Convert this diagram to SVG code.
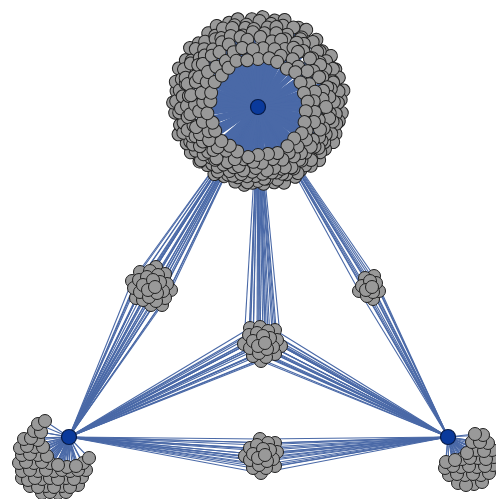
<svg xmlns="http://www.w3.org/2000/svg" width="496" height="499" viewBox="0 0 496 499">
<style>
.e line{stroke:#4a69a7;stroke-width:1.1}
#ring-edges line{stroke-width:2.6}
.n{fill:#999;stroke:#202020;stroke-width:1}
.h{fill:#0a3a9c;stroke:#061a45;stroke-width:1.2}
</style>
<rect width="496" height="499" fill="#fff"/>
<g id="connectors" class="e">
<g id="ring-edges" transform="translate(258,107)">
<line transform="rotate(3)" y2="-90"/><line transform="rotate(11)" y2="-88"/><line transform="rotate(17)" y2="-91"/><line transform="rotate(27)" y2="-89"/><line transform="rotate(32)" y2="-91"/><line transform="rotate(41)" y2="-89"/><line transform="rotate(49)" y2="-85"/><line transform="rotate(55)" y2="-89"/><line transform="rotate(64)" y2="-86"/><line transform="rotate(70)" y2="-86"/><line transform="rotate(79)" y2="-87"/><line transform="rotate(85)" y2="-83"/><line transform="rotate(94)" y2="-84"/><line transform="rotate(100)" y2="-82"/><line transform="rotate(109)" y2="-82"/><line transform="rotate(115)" y2="-83"/><line transform="rotate(122)" y2="-79"/><line transform="rotate(131)" y2="-81"/><line transform="rotate(138)" y2="-79"/><line transform="rotate(146)" y2="-76"/><line transform="rotate(152)" y2="-79"/><line transform="rotate(161)" y2="-80"/><line transform="rotate(168)" y2="-77"/><line transform="rotate(176)" y2="-77"/><line transform="rotate(184)" y2="-76"/><line transform="rotate(190)" y2="-79"/><line transform="rotate(197)" y2="-78"/><line transform="rotate(206)" y2="-77"/><line transform="rotate(213)" y2="-80"/><line transform="rotate(221)" y2="-77"/><line transform="rotate(227)" y2="-80"/><line transform="rotate(236)" y2="-81"/><line transform="rotate(243)" y2="-80"/><line transform="rotate(251)" y2="-84"/><line transform="rotate(257)" y2="-80"/><line transform="rotate(266)" y2="-83"/><line transform="rotate(273)" y2="-85"/><line transform="rotate(281)" y2="-83"/><line transform="rotate(287)" y2="-86"/><line transform="rotate(296)" y2="-88"/><line transform="rotate(303)" y2="-86"/><line transform="rotate(311)" y2="-90"/><line transform="rotate(317)" y2="-87"/><line transform="rotate(326)" y2="-89"/><line transform="rotate(333)" y2="-91"/><line transform="rotate(341)" y2="-89"/><line transform="rotate(347)" y2="-90"/><line transform="rotate(356)" y2="-88"/>
<line transform="rotate(1)" y2="-86"/><line transform="rotate(9)" y2="-84"/><line transform="rotate(17)" y2="-85"/><line transform="rotate(24)" y2="-87"/><line transform="rotate(32)" y2="-82"/><line transform="rotate(40)" y2="-85"/><line transform="rotate(48)" y2="-83"/><line transform="rotate(56)" y2="-82"/><line transform="rotate(63)" y2="-84"/><line transform="rotate(71)" y2="-79"/><line transform="rotate(79)" y2="-82"/><line transform="rotate(87)" y2="-80"/><line transform="rotate(95)" y2="-78"/><line transform="rotate(102)" y2="-80"/><line transform="rotate(110)" y2="-78"/><line transform="rotate(118)" y2="-75"/><line transform="rotate(126)" y2="-77"/><line transform="rotate(134)" y2="-74"/><line transform="rotate(141)" y2="-75"/><line transform="rotate(149)" y2="-77"/><line transform="rotate(157)" y2="-73"/><line transform="rotate(165)" y2="-75"/><line transform="rotate(173)" y2="-72"/><line transform="rotate(180)" y2="-74"/><line transform="rotate(188)" y2="-76"/><line transform="rotate(196)" y2="-73"/><line transform="rotate(204)" y2="-74"/><line transform="rotate(212)" y2="-76"/><line transform="rotate(219)" y2="-73"/><line transform="rotate(227)" y2="-78"/><line transform="rotate(235)" y2="-76"/><line transform="rotate(243)" y2="-76"/><line transform="rotate(251)" y2="-79"/><line transform="rotate(258)" y2="-76"/><line transform="rotate(266)" y2="-79"/><line transform="rotate(274)" y2="-82"/><line transform="rotate(282)" y2="-80"/><line transform="rotate(290)" y2="-81"/><line transform="rotate(297)" y2="-83"/><line transform="rotate(305)" y2="-81"/><line transform="rotate(313)" y2="-85"/><line transform="rotate(321)" y2="-84"/><line transform="rotate(329)" y2="-83"/><line transform="rotate(336)" y2="-86"/><line transform="rotate(344)" y2="-85"/><line transform="rotate(352)" y2="-83"/>
<line transform="rotate(7)" y2="-80"/><line transform="rotate(13)" y2="-82"/><line transform="rotate(22)" y2="-78"/><line transform="rotate(32)" y2="-80"/><line transform="rotate(36)" y2="-78"/><line transform="rotate(47)" y2="-81"/><line transform="rotate(54)" y2="-76"/><line transform="rotate(61)" y2="-77"/><line transform="rotate(72)" y2="-79"/><line transform="rotate(76)" y2="-75"/><line transform="rotate(86)" y2="-76"/><line transform="rotate(95)" y2="-72"/><line transform="rotate(101)" y2="-76"/><line transform="rotate(112)" y2="-73"/><line transform="rotate(118)" y2="-72"/><line transform="rotate(124)" y2="-73"/><line transform="rotate(135)" y2="-75"/><line transform="rotate(141)" y2="-69"/><line transform="rotate(150)" y2="-71"/><line transform="rotate(160)" y2="-71"/><line transform="rotate(164)" y2="-68"/><line transform="rotate(175)" y2="-72"/><line transform="rotate(182)" y2="-69"/><line transform="rotate(189)" y2="-70"/><line transform="rotate(200)" y2="-73"/><line transform="rotate(204)" y2="-70"/><line transform="rotate(214)" y2="-72"/><line transform="rotate(223)" y2="-69"/><line transform="rotate(229)" y2="-72"/><line transform="rotate(240)" y2="-75"/><line transform="rotate(246)" y2="-72"/><line transform="rotate(252)" y2="-74"/><line transform="rotate(263)" y2="-71"/><line transform="rotate(269)" y2="-77"/><line transform="rotate(278)" y2="-76"/><line transform="rotate(288)" y2="-76"/><line transform="rotate(292)" y2="-78"/><line transform="rotate(303)" y2="-80"/><line transform="rotate(310)" y2="-76"/><line transform="rotate(317)" y2="-79"/><line transform="rotate(328)" y2="-80"/><line transform="rotate(332)" y2="-78"/><line transform="rotate(342)" y2="-83"/><line transform="rotate(351)" y2="-80"/><line transform="rotate(357)" y2="-78"/>
<line transform="rotate(5)" y2="-74"/><line transform="rotate(14)" y2="-76"/><line transform="rotate(22)" y2="-73"/><line transform="rotate(31)" y2="-75"/><line transform="rotate(39)" y2="-72"/><line transform="rotate(48)" y2="-73"/><line transform="rotate(56)" y2="-75"/><line transform="rotate(65)" y2="-71"/><line transform="rotate(74)" y2="-72"/><line transform="rotate(82)" y2="-72"/><line transform="rotate(91)" y2="-68"/><line transform="rotate(99)" y2="-72"/><line transform="rotate(108)" y2="-69"/><line transform="rotate(116)" y2="-68"/><line transform="rotate(125)" y2="-69"/><line transform="rotate(134)" y2="-66"/><line transform="rotate(142)" y2="-67"/><line transform="rotate(151)" y2="-69"/><line transform="rotate(159)" y2="-66"/><line transform="rotate(168)" y2="-67"/><line transform="rotate(176)" y2="-67"/><line transform="rotate(185)" y2="-65"/><line transform="rotate(194)" y2="-69"/><line transform="rotate(202)" y2="-65"/><line transform="rotate(211)" y2="-67"/><line transform="rotate(219)" y2="-68"/><line transform="rotate(228)" y2="-67"/><line transform="rotate(236)" y2="-70"/><line transform="rotate(245)" y2="-69"/><line transform="rotate(254)" y2="-67"/><line transform="rotate(262)" y2="-71"/><line transform="rotate(271)" y2="-71"/><line transform="rotate(279)" y2="-70"/><line transform="rotate(288)" y2="-74"/><line transform="rotate(296)" y2="-70"/><line transform="rotate(305)" y2="-73"/><line transform="rotate(314)" y2="-74"/><line transform="rotate(322)" y2="-73"/><line transform="rotate(331)" y2="-74"/><line transform="rotate(339)" y2="-76"/><line transform="rotate(348)" y2="-73"/><line transform="rotate(356)" y2="-75"/>
<line transform="rotate(2)" y2="-70"/><line transform="rotate(12)" y2="-67"/><line transform="rotate(19)" y2="-71"/><line transform="rotate(25)" y2="-64"/><line transform="rotate(31)" y2="-69"/><line transform="rotate(36)" y2="-68"/><line transform="rotate(47)" y2="-71"/><line transform="rotate(57)" y2="-66"/><line transform="rotate(64)" y2="-68"/><line transform="rotate(76)" y2="-67"/><line transform="rotate(83)" y2="-65"/><line transform="rotate(90)" y2="-68"/><line transform="rotate(102)" y2="-62"/><line transform="rotate(110)" y2="-66"/><line transform="rotate(121)" y2="-64"/><line transform="rotate(127)" y2="-66"/><line transform="rotate(137)" y2="-63"/><line transform="rotate(144)" y2="-61"/><line transform="rotate(156)" y2="-66"/><line transform="rotate(165)" y2="-63"/><line transform="rotate(172)" y2="-64"/><line transform="rotate(182)" y2="-61"/><line transform="rotate(193)" y2="-65"/><line transform="rotate(198)" y2="-62"/><line transform="rotate(209)" y2="-63"/><line transform="rotate(219)" y2="-66"/><line transform="rotate(226)" y2="-62"/><line transform="rotate(238)" y2="-65"/><line transform="rotate(245)" y2="-64"/><line transform="rotate(252)" y2="-65"/><line transform="rotate(264)" y2="-68"/><line transform="rotate(272)" y2="-63"/><line transform="rotate(280)" y2="-68"/><line transform="rotate(292)" y2="-67"/><line transform="rotate(297)" y2="-66"/><line transform="rotate(308)" y2="-70"/><line transform="rotate(318)" y2="-69"/><line transform="rotate(325)" y2="-67"/><line transform="rotate(335)" y2="-69"/><line transform="rotate(346)" y2="-72"/><line transform="rotate(351)" y2="-68"/>
<line transform="rotate(5)" y2="-59"/><line transform="rotate(16)" y2="-60"/><line transform="rotate(24)" y2="-56"/><line transform="rotate(36)" y2="-59"/><line transform="rotate(45)" y2="-57"/><line transform="rotate(54)" y2="-61"/><line transform="rotate(66)" y2="-56"/><line transform="rotate(75)" y2="-59"/><line transform="rotate(84)" y2="-56"/><line transform="rotate(95)" y2="-57"/><line transform="rotate(105)" y2="-58"/><line transform="rotate(116)" y2="-54"/><line transform="rotate(124)" y2="-58"/><line transform="rotate(135)" y2="-56"/><line transform="rotate(146)" y2="-55"/><line transform="rotate(155)" y2="-58"/><line transform="rotate(164)" y2="-54"/><line transform="rotate(176)" y2="-56"/><line transform="rotate(185)" y2="-55"/><line transform="rotate(195)" y2="-54"/><line transform="rotate(204)" y2="-57"/><line transform="rotate(216)" y2="-54"/><line transform="rotate(225)" y2="-57"/><line transform="rotate(236)" y2="-59"/><line transform="rotate(244)" y2="-55"/><line transform="rotate(255)" y2="-57"/><line transform="rotate(266)" y2="-59"/><line transform="rotate(275)" y2="-55"/><line transform="rotate(284)" y2="-58"/><line transform="rotate(296)" y2="-57"/><line transform="rotate(305)" y2="-61"/><line transform="rotate(314)" y2="-58"/><line transform="rotate(325)" y2="-56"/><line transform="rotate(336)" y2="-60"/><line transform="rotate(345)" y2="-61"/><line transform="rotate(355)" y2="-58"/>
<line transform="rotate(0)" y2="-48"/><line transform="rotate(13)" y2="-50"/><line transform="rotate(23)" y2="-49"/><line transform="rotate(37)" y2="-48"/><line transform="rotate(47)" y2="-51"/><line transform="rotate(60)" y2="-49"/><line transform="rotate(73)" y2="-48"/><line transform="rotate(84)" y2="-50"/><line transform="rotate(95)" y2="-48"/><line transform="rotate(108)" y2="-49"/><line transform="rotate(121)" y2="-51"/><line transform="rotate(131)" y2="-48"/><line transform="rotate(143)" y2="-49"/><line transform="rotate(157)" y2="-50"/><line transform="rotate(168)" y2="-48"/><line transform="rotate(180)" y2="-48"/><line transform="rotate(191)" y2="-51"/><line transform="rotate(205)" y2="-49"/><line transform="rotate(216)" y2="-48"/><line transform="rotate(227)" y2="-50"/><line transform="rotate(241)" y2="-49"/><line transform="rotate(251)" y2="-48"/><line transform="rotate(263)" y2="-51"/><line transform="rotate(277)" y2="-48"/><line transform="rotate(287)" y2="-49"/><line transform="rotate(300)" y2="-50"/><line transform="rotate(311)" y2="-48"/><line transform="rotate(323)" y2="-49"/><line transform="rotate(335)" y2="-51"/><line transform="rotate(347)" y2="-48"/>
</g>
<g id="a-edges">
<line x1="155" y1="287" x2="258" y2="107"/><line x1="148" y1="290" x2="258" y2="107"/><line x1="153" y1="280" x2="258" y2="107"/><line x1="157" y1="293" x2="258" y2="107"/><line x1="143" y1="285" x2="258" y2="107"/><line x1="160" y1="282" x2="258" y2="107"/><line x1="149" y1="297" x2="258" y2="107"/><line x1="147" y1="277" x2="258" y2="107"/><line x1="163" y1="291" x2="258" y2="107"/><line x1="140" y1="292" x2="258" y2="107"/><line x1="158" y1="275" x2="258" y2="107"/><line x1="156" y1="301" x2="258" y2="107"/><line x1="139" y1="280" x2="258" y2="107"/><line x1="167" y1="284" x2="258" y2="107"/><line x1="143" y1="300" x2="258" y2="107"/><line x1="150" y1="271" x2="258" y2="107"/><line x1="165" y1="298" x2="258" y2="107"/><line x1="134" y1="288" x2="258" y2="107"/><line x1="165" y1="274" x2="258" y2="107"/><line x1="151" y1="305" x2="258" y2="107"/><line x1="140" y1="272" x2="258" y2="107"/><line x1="171" y1="290" x2="258" y2="107"/><line x1="136" y1="298" x2="258" y2="107"/><line x1="156" y1="267" x2="258" y2="107"/><line x1="162" y1="305" x2="258" y2="107"/><line x1="132" y1="281" x2="258" y2="107"/>
<line x1="155" y1="287" x2="69" y2="437"/><line x1="148" y1="290" x2="69" y2="437"/><line x1="153" y1="280" x2="69" y2="437"/><line x1="157" y1="293" x2="69" y2="437"/><line x1="143" y1="285" x2="69" y2="437"/><line x1="160" y1="282" x2="69" y2="437"/><line x1="149" y1="297" x2="69" y2="437"/><line x1="147" y1="277" x2="69" y2="437"/><line x1="163" y1="291" x2="69" y2="437"/><line x1="140" y1="292" x2="69" y2="437"/><line x1="158" y1="275" x2="69" y2="437"/><line x1="156" y1="301" x2="69" y2="437"/><line x1="139" y1="280" x2="69" y2="437"/><line x1="167" y1="284" x2="69" y2="437"/><line x1="143" y1="300" x2="69" y2="437"/><line x1="150" y1="271" x2="69" y2="437"/><line x1="165" y1="298" x2="69" y2="437"/><line x1="134" y1="288" x2="69" y2="437"/><line x1="165" y1="274" x2="69" y2="437"/><line x1="151" y1="305" x2="69" y2="437"/><line x1="140" y1="272" x2="69" y2="437"/><line x1="171" y1="290" x2="69" y2="437"/><line x1="136" y1="298" x2="69" y2="437"/><line x1="156" y1="267" x2="69" y2="437"/><line x1="162" y1="305" x2="69" y2="437"/><line x1="132" y1="281" x2="69" y2="437"/>
</g>
<g id="b-edges">
<line x1="372" y1="287" x2="258" y2="107"/><line x1="366" y1="290" x2="258" y2="107"/><line x1="370" y1="281" x2="258" y2="107"/><line x1="373" y1="292" x2="258" y2="107"/><line x1="362" y1="286" x2="258" y2="107"/><line x1="376" y1="283" x2="258" y2="107"/><line x1="367" y1="296" x2="258" y2="107"/><line x1="365" y1="278" x2="258" y2="107"/><line x1="379" y1="291" x2="258" y2="107"/><line x1="359" y1="291" x2="258" y2="107"/><line x1="374" y1="276" x2="258" y2="107"/><line x1="373" y1="299" x2="258" y2="107"/>
<line x1="372" y1="287" x2="448" y2="437"/><line x1="366" y1="290" x2="448" y2="437"/><line x1="370" y1="281" x2="448" y2="437"/><line x1="373" y1="292" x2="448" y2="437"/><line x1="362" y1="286" x2="448" y2="437"/><line x1="376" y1="283" x2="448" y2="437"/><line x1="367" y1="296" x2="448" y2="437"/><line x1="365" y1="278" x2="448" y2="437"/><line x1="379" y1="291" x2="448" y2="437"/><line x1="359" y1="291" x2="448" y2="437"/><line x1="374" y1="276" x2="448" y2="437"/><line x1="373" y1="299" x2="448" y2="437"/>
</g>
<g id="c-edges">
<line x1="265" y1="343" x2="258" y2="107"/><line x1="258" y1="346" x2="258" y2="107"/><line x1="263" y1="336" x2="258" y2="107"/><line x1="267" y1="349" x2="258" y2="107"/><line x1="253" y1="341" x2="258" y2="107"/><line x1="270" y1="338" x2="258" y2="107"/><line x1="259" y1="353" x2="258" y2="107"/><line x1="257" y1="333" x2="258" y2="107"/><line x1="273" y1="347" x2="258" y2="107"/><line x1="250" y1="348" x2="258" y2="107"/><line x1="268" y1="331" x2="258" y2="107"/><line x1="266" y1="357" x2="258" y2="107"/><line x1="249" y1="335" x2="258" y2="107"/><line x1="277" y1="340" x2="258" y2="107"/><line x1="253" y1="356" x2="258" y2="107"/><line x1="260" y1="327" x2="258" y2="107"/><line x1="275" y1="354" x2="258" y2="107"/><line x1="244" y1="344" x2="258" y2="107"/><line x1="275" y1="330" x2="258" y2="107"/><line x1="261" y1="361" x2="258" y2="107"/><line x1="250" y1="328" x2="258" y2="107"/><line x1="281" y1="346" x2="258" y2="107"/>
<line x1="265" y1="343" x2="69" y2="437"/><line x1="258" y1="346" x2="69" y2="437"/><line x1="263" y1="336" x2="69" y2="437"/><line x1="267" y1="349" x2="69" y2="437"/><line x1="253" y1="341" x2="69" y2="437"/><line x1="270" y1="338" x2="69" y2="437"/><line x1="259" y1="353" x2="69" y2="437"/><line x1="257" y1="333" x2="69" y2="437"/><line x1="273" y1="347" x2="69" y2="437"/><line x1="250" y1="348" x2="69" y2="437"/><line x1="268" y1="331" x2="69" y2="437"/><line x1="266" y1="357" x2="69" y2="437"/><line x1="249" y1="335" x2="69" y2="437"/><line x1="277" y1="340" x2="69" y2="437"/><line x1="253" y1="356" x2="69" y2="437"/><line x1="260" y1="327" x2="69" y2="437"/><line x1="275" y1="354" x2="69" y2="437"/><line x1="244" y1="344" x2="69" y2="437"/><line x1="275" y1="330" x2="69" y2="437"/><line x1="261" y1="361" x2="69" y2="437"/><line x1="250" y1="328" x2="69" y2="437"/><line x1="281" y1="346" x2="69" y2="437"/>
<line x1="265" y1="343" x2="448" y2="437"/><line x1="258" y1="346" x2="448" y2="437"/><line x1="263" y1="336" x2="448" y2="437"/><line x1="267" y1="349" x2="448" y2="437"/><line x1="253" y1="341" x2="448" y2="437"/><line x1="270" y1="338" x2="448" y2="437"/><line x1="259" y1="353" x2="448" y2="437"/><line x1="257" y1="333" x2="448" y2="437"/><line x1="273" y1="347" x2="448" y2="437"/><line x1="250" y1="348" x2="448" y2="437"/><line x1="268" y1="331" x2="448" y2="437"/><line x1="266" y1="357" x2="448" y2="437"/><line x1="249" y1="335" x2="448" y2="437"/><line x1="277" y1="340" x2="448" y2="437"/><line x1="253" y1="356" x2="448" y2="437"/><line x1="260" y1="327" x2="448" y2="437"/><line x1="275" y1="354" x2="448" y2="437"/><line x1="244" y1="344" x2="448" y2="437"/><line x1="275" y1="330" x2="448" y2="437"/><line x1="261" y1="361" x2="448" y2="437"/><line x1="250" y1="328" x2="448" y2="437"/><line x1="281" y1="346" x2="448" y2="437"/>
</g>
<g id="d-edges">
<line x1="265" y1="455" x2="69" y2="437"/><line x1="258" y1="458" x2="69" y2="437"/><line x1="263" y1="449" x2="69" y2="437"/><line x1="267" y1="461" x2="69" y2="437"/><line x1="253" y1="454" x2="69" y2="437"/><line x1="270" y1="450" x2="69" y2="437"/><line x1="259" y1="465" x2="69" y2="437"/><line x1="257" y1="445" x2="69" y2="437"/><line x1="273" y1="459" x2="69" y2="437"/><line x1="250" y1="460" x2="69" y2="437"/><line x1="268" y1="443" x2="69" y2="437"/><line x1="266" y1="468" x2="69" y2="437"/><line x1="250" y1="448" x2="69" y2="437"/><line x1="277" y1="452" x2="69" y2="437"/><line x1="253" y1="468" x2="69" y2="437"/><line x1="260" y1="439" x2="69" y2="437"/><line x1="275" y1="466" x2="69" y2="437"/><line x1="245" y1="456" x2="69" y2="437"/><line x1="275" y1="443" x2="69" y2="437"/><line x1="261" y1="473" x2="69" y2="437"/>
<line x1="265" y1="455" x2="448" y2="437"/><line x1="258" y1="458" x2="448" y2="437"/><line x1="263" y1="449" x2="448" y2="437"/><line x1="267" y1="461" x2="448" y2="437"/><line x1="253" y1="454" x2="448" y2="437"/><line x1="270" y1="450" x2="448" y2="437"/><line x1="259" y1="465" x2="448" y2="437"/><line x1="257" y1="445" x2="448" y2="437"/><line x1="273" y1="459" x2="448" y2="437"/><line x1="250" y1="460" x2="448" y2="437"/><line x1="268" y1="443" x2="448" y2="437"/><line x1="266" y1="468" x2="448" y2="437"/><line x1="250" y1="448" x2="448" y2="437"/><line x1="277" y1="452" x2="448" y2="437"/><line x1="253" y1="468" x2="448" y2="437"/><line x1="260" y1="439" x2="448" y2="437"/><line x1="275" y1="466" x2="448" y2="437"/><line x1="245" y1="456" x2="448" y2="437"/><line x1="275" y1="443" x2="448" y2="437"/><line x1="261" y1="473" x2="448" y2="437"/>
</g>
<g id="e-edges">
<line x1="69" y1="437" x2="38" y2="424"/><line x1="69" y1="437" x2="45" y2="421"/><line x1="69" y1="437" x2="34" y2="431"/><line x1="69" y1="437" x2="41" y2="432"/><line x1="69" y1="437" x2="24" y2="439"/><line x1="69" y1="437" x2="31" y2="438"/><line x1="69" y1="437" x2="38" y2="440"/><line x1="69" y1="437" x2="20" y2="448"/><line x1="69" y1="437" x2="27" y2="446"/><line x1="69" y1="437" x2="35" y2="447"/><line x1="69" y1="437" x2="43" y2="447"/><line x1="69" y1="437" x2="22" y2="455"/><line x1="69" y1="437" x2="30" y2="454"/><line x1="69" y1="437" x2="38" y2="455"/><line x1="69" y1="437" x2="47" y2="456"/><line x1="69" y1="437" x2="19" y2="463"/><line x1="69" y1="437" x2="26" y2="462"/><line x1="69" y1="437" x2="34" y2="463"/><line x1="69" y1="437" x2="42" y2="462"/><line x1="69" y1="437" x2="50" y2="463"/><line x1="69" y1="437" x2="58" y2="465"/><line x1="69" y1="437" x2="67" y2="467"/><line x1="69" y1="437" x2="76" y2="466"/><line x1="69" y1="437" x2="83" y2="463"/><line x1="69" y1="437" x2="89" y2="458"/><line x1="69" y1="437" x2="22" y2="471"/><line x1="69" y1="437" x2="30" y2="470"/><line x1="69" y1="437" x2="38" y2="471"/><line x1="69" y1="437" x2="46" y2="470"/><line x1="69" y1="437" x2="54" y2="471"/><line x1="69" y1="437" x2="62" y2="470"/><line x1="69" y1="437" x2="70" y2="471"/><line x1="69" y1="437" x2="78" y2="470"/><line x1="69" y1="437" x2="86" y2="470"/><line x1="69" y1="437" x2="22" y2="478"/><line x1="69" y1="437" x2="28" y2="480"/><line x1="69" y1="437" x2="35" y2="478"/><line x1="69" y1="437" x2="42" y2="479"/><line x1="69" y1="437" x2="50" y2="478"/><line x1="69" y1="437" x2="58" y2="479"/><line x1="69" y1="437" x2="66" y2="478"/><line x1="69" y1="437" x2="74" y2="479"/><line x1="69" y1="437" x2="82" y2="477"/><line x1="69" y1="437" x2="30" y2="486"/><line x1="69" y1="437" x2="38" y2="487"/><line x1="69" y1="437" x2="46" y2="486"/><line x1="69" y1="437" x2="54" y2="487"/><line x1="69" y1="437" x2="62" y2="486"/><line x1="69" y1="437" x2="70" y2="487"/><line x1="69" y1="437" x2="78" y2="485"/><line x1="69" y1="437" x2="42" y2="493"/><line x1="69" y1="437" x2="50" y2="492"/><line x1="69" y1="437" x2="58" y2="493"/><line x1="69" y1="437" x2="66" y2="492"/>
</g>
<g id="f-edges">
<line x1="448" y1="437" x2="475" y2="434"/><line x1="448" y1="437" x2="483" y2="435"/><line x1="448" y1="437" x2="472" y2="442"/><line x1="448" y1="437" x2="480" y2="442"/><line x1="448" y1="437" x2="488" y2="443"/><line x1="448" y1="437" x2="467" y2="453"/><line x1="448" y1="437" x2="476" y2="450"/><line x1="448" y1="437" x2="484" y2="451"/><line x1="448" y1="437" x2="492" y2="450"/><line x1="448" y1="437" x2="446" y2="462"/><line x1="448" y1="437" x2="455" y2="460"/><line x1="448" y1="437" x2="462" y2="459"/><line x1="448" y1="437" x2="470" y2="458"/><line x1="448" y1="437" x2="478" y2="458"/><line x1="448" y1="437" x2="486" y2="459"/><line x1="448" y1="437" x2="494" y2="457"/><line x1="448" y1="437" x2="445" y2="468"/><line x1="448" y1="437" x2="453" y2="466"/><line x1="448" y1="437" x2="461" y2="467"/><line x1="448" y1="437" x2="469" y2="466"/><line x1="448" y1="437" x2="477" y2="467"/><line x1="448" y1="437" x2="485" y2="466"/><line x1="448" y1="437" x2="493" y2="465"/><line x1="448" y1="437" x2="449" y2="475"/><line x1="448" y1="437" x2="457" y2="474"/><line x1="448" y1="437" x2="465" y2="475"/><line x1="448" y1="437" x2="473" y2="474"/><line x1="448" y1="437" x2="481" y2="475"/><line x1="448" y1="437" x2="489" y2="473"/><line x1="448" y1="437" x2="458" y2="483"/><line x1="448" y1="437" x2="466" y2="485"/><line x1="448" y1="437" x2="474" y2="484"/><line x1="448" y1="437" x2="482" y2="482"/>
</g>
</g>
<g id="nodes">
<g id="ring" transform="translate(258,107)">
<g id="t1" transform="rotate(3)"><circle class="n" cy="-90" r="6.5"/></g><g id="t2" transform="rotate(11)"><circle class="n" cy="-88" r="6.5"/></g><g id="t3" transform="rotate(17)"><circle class="n" cy="-91" r="6.5"/></g><g id="t4" transform="rotate(27)"><circle class="n" cy="-89" r="6.5"/></g><g id="t5" transform="rotate(32)"><circle class="n" cy="-91" r="6.5"/></g><g id="t6" transform="rotate(41)"><circle class="n" cy="-89" r="6.5"/></g><g id="t7" transform="rotate(49)"><circle class="n" cy="-85" r="6.5"/></g><g id="t8" transform="rotate(55)"><circle class="n" cy="-89" r="6.5"/></g><g id="t9" transform="rotate(64)"><circle class="n" cy="-86" r="6.5"/></g><g id="t10" transform="rotate(70)"><circle class="n" cy="-86" r="6.5"/></g><g id="t11" transform="rotate(79)"><circle class="n" cy="-87" r="6.5"/></g><g id="t12" transform="rotate(85)"><circle class="n" cy="-83" r="6.5"/></g><g id="t13" transform="rotate(94)"><circle class="n" cy="-84" r="6.5"/></g><g id="t14" transform="rotate(100)"><circle class="n" cy="-82" r="6.5"/></g><g id="t15" transform="rotate(109)"><circle class="n" cy="-82" r="6.5"/></g><g id="t16" transform="rotate(115)"><circle class="n" cy="-83" r="6.5"/></g><g id="t17" transform="rotate(122)"><circle class="n" cy="-79" r="6.5"/></g><g id="t18" transform="rotate(131)"><circle class="n" cy="-81" r="6.5"/></g><g id="t19" transform="rotate(138)"><circle class="n" cy="-79" r="6.5"/></g><g id="t20" transform="rotate(146)"><circle class="n" cy="-76" r="6.5"/></g><g id="t21" transform="rotate(152)"><circle class="n" cy="-79" r="6.5"/></g><g id="t22" transform="rotate(161)"><circle class="n" cy="-80" r="6.5"/></g><g id="t23" transform="rotate(168)"><circle class="n" cy="-77" r="6.5"/></g><g id="t24" transform="rotate(176)"><circle class="n" cy="-77" r="6.5"/></g><g id="t25" transform="rotate(184)"><circle class="n" cy="-76" r="6.5"/></g><g id="t26" transform="rotate(190)"><circle class="n" cy="-79" r="6.5"/></g><g id="t27" transform="rotate(197)"><circle class="n" cy="-78" r="6.5"/></g><g id="t28" transform="rotate(206)"><circle class="n" cy="-77" r="6.5"/></g><g id="t29" transform="rotate(213)"><circle class="n" cy="-80" r="6.5"/></g><g id="t30" transform="rotate(221)"><circle class="n" cy="-77" r="6.5"/></g><g id="t31" transform="rotate(227)"><circle class="n" cy="-80" r="6.5"/></g><g id="t32" transform="rotate(236)"><circle class="n" cy="-81" r="6.5"/></g><g id="t33" transform="rotate(243)"><circle class="n" cy="-80" r="6.5"/></g><g id="t34" transform="rotate(251)"><circle class="n" cy="-84" r="6.5"/></g><g id="t35" transform="rotate(257)"><circle class="n" cy="-80" r="6.5"/></g><g id="t36" transform="rotate(266)"><circle class="n" cy="-83" r="6.5"/></g><g id="t37" transform="rotate(273)"><circle class="n" cy="-85" r="6.5"/></g><g id="t38" transform="rotate(281)"><circle class="n" cy="-83" r="6.5"/></g><g id="t39" transform="rotate(287)"><circle class="n" cy="-86" r="6.5"/></g><g id="t40" transform="rotate(296)"><circle class="n" cy="-88" r="6.5"/></g><g id="t41" transform="rotate(303)"><circle class="n" cy="-86" r="6.5"/></g><g id="t42" transform="rotate(311)"><circle class="n" cy="-90" r="6.5"/></g><g id="t43" transform="rotate(317)"><circle class="n" cy="-87" r="6.5"/></g><g id="t44" transform="rotate(326)"><circle class="n" cy="-89" r="6.5"/></g><g id="t45" transform="rotate(333)"><circle class="n" cy="-91" r="6.5"/></g><g id="t46" transform="rotate(341)"><circle class="n" cy="-89" r="6.5"/></g><g id="t47" transform="rotate(347)"><circle class="n" cy="-90" r="6.5"/></g><g id="t48" transform="rotate(356)"><circle class="n" cy="-88" r="6.5"/></g>
<g id="t200" transform="rotate(1)"><circle class="n" cy="-86" r="6.5"/></g><g id="t201" transform="rotate(9)"><circle class="n" cy="-84" r="6.5"/></g><g id="t202" transform="rotate(17)"><circle class="n" cy="-85" r="6.5"/></g><g id="t203" transform="rotate(24)"><circle class="n" cy="-87" r="6.5"/></g><g id="t204" transform="rotate(32)"><circle class="n" cy="-82" r="6.5"/></g><g id="t205" transform="rotate(40)"><circle class="n" cy="-85" r="6.5"/></g><g id="t206" transform="rotate(48)"><circle class="n" cy="-83" r="6.5"/></g><g id="t207" transform="rotate(56)"><circle class="n" cy="-82" r="6.5"/></g><g id="t208" transform="rotate(63)"><circle class="n" cy="-84" r="6.5"/></g><g id="t209" transform="rotate(71)"><circle class="n" cy="-79" r="6.5"/></g><g id="t210" transform="rotate(79)"><circle class="n" cy="-82" r="6.5"/></g><g id="t211" transform="rotate(87)"><circle class="n" cy="-80" r="6.5"/></g><g id="t212" transform="rotate(95)"><circle class="n" cy="-78" r="6.5"/></g><g id="t213" transform="rotate(102)"><circle class="n" cy="-80" r="6.5"/></g><g id="t214" transform="rotate(110)"><circle class="n" cy="-78" r="6.5"/></g><g id="t215" transform="rotate(118)"><circle class="n" cy="-75" r="6.5"/></g><g id="t216" transform="rotate(126)"><circle class="n" cy="-77" r="6.5"/></g><g id="t217" transform="rotate(134)"><circle class="n" cy="-74" r="6.5"/></g><g id="t218" transform="rotate(141)"><circle class="n" cy="-75" r="6.5"/></g><g id="t219" transform="rotate(149)"><circle class="n" cy="-77" r="6.5"/></g><g id="t220" transform="rotate(157)"><circle class="n" cy="-73" r="6.5"/></g><g id="t221" transform="rotate(165)"><circle class="n" cy="-75" r="6.5"/></g><g id="t222" transform="rotate(173)"><circle class="n" cy="-72" r="6.5"/></g><g id="t223" transform="rotate(180)"><circle class="n" cy="-74" r="6.5"/></g><g id="t224" transform="rotate(188)"><circle class="n" cy="-76" r="6.5"/></g><g id="t225" transform="rotate(196)"><circle class="n" cy="-73" r="6.5"/></g><g id="t226" transform="rotate(204)"><circle class="n" cy="-74" r="6.5"/></g><g id="t227" transform="rotate(212)"><circle class="n" cy="-76" r="6.5"/></g><g id="t228" transform="rotate(219)"><circle class="n" cy="-73" r="6.5"/></g><g id="t229" transform="rotate(227)"><circle class="n" cy="-78" r="6.5"/></g><g id="t230" transform="rotate(235)"><circle class="n" cy="-76" r="6.5"/></g><g id="t231" transform="rotate(243)"><circle class="n" cy="-76" r="6.5"/></g><g id="t232" transform="rotate(251)"><circle class="n" cy="-79" r="6.5"/></g><g id="t233" transform="rotate(258)"><circle class="n" cy="-76" r="6.5"/></g><g id="t234" transform="rotate(266)"><circle class="n" cy="-79" r="6.5"/></g><g id="t235" transform="rotate(274)"><circle class="n" cy="-82" r="6.5"/></g><g id="t236" transform="rotate(282)"><circle class="n" cy="-80" r="6.5"/></g><g id="t237" transform="rotate(290)"><circle class="n" cy="-81" r="6.5"/></g><g id="t238" transform="rotate(297)"><circle class="n" cy="-83" r="6.5"/></g><g id="t239" transform="rotate(305)"><circle class="n" cy="-81" r="6.5"/></g><g id="t240" transform="rotate(313)"><circle class="n" cy="-85" r="6.5"/></g><g id="t241" transform="rotate(321)"><circle class="n" cy="-84" r="6.5"/></g><g id="t242" transform="rotate(329)"><circle class="n" cy="-83" r="6.5"/></g><g id="t243" transform="rotate(336)"><circle class="n" cy="-86" r="6.5"/></g><g id="t244" transform="rotate(344)"><circle class="n" cy="-85" r="6.5"/></g><g id="t245" transform="rotate(352)"><circle class="n" cy="-83" r="6.5"/></g>
<g id="t49" transform="rotate(7)"><circle class="n" cy="-80" r="6.5"/></g><g id="t50" transform="rotate(13)"><circle class="n" cy="-82" r="6.5"/></g><g id="t51" transform="rotate(22)"><circle class="n" cy="-78" r="6.5"/></g><g id="t52" transform="rotate(32)"><circle class="n" cy="-80" r="6.5"/></g><g id="t53" transform="rotate(36)"><circle class="n" cy="-78" r="6.5"/></g><g id="t54" transform="rotate(47)"><circle class="n" cy="-81" r="6.5"/></g><g id="t55" transform="rotate(54)"><circle class="n" cy="-76" r="6.5"/></g><g id="t56" transform="rotate(61)"><circle class="n" cy="-77" r="6.5"/></g><g id="t57" transform="rotate(72)"><circle class="n" cy="-79" r="6.5"/></g><g id="t58" transform="rotate(76)"><circle class="n" cy="-75" r="6.5"/></g><g id="t59" transform="rotate(86)"><circle class="n" cy="-76" r="6.5"/></g><g id="t60" transform="rotate(95)"><circle class="n" cy="-72" r="6.5"/></g><g id="t61" transform="rotate(101)"><circle class="n" cy="-76" r="6.5"/></g><g id="t62" transform="rotate(112)"><circle class="n" cy="-73" r="6.5"/></g><g id="t63" transform="rotate(118)"><circle class="n" cy="-72" r="6.5"/></g><g id="t64" transform="rotate(124)"><circle class="n" cy="-73" r="6.5"/></g><g id="t65" transform="rotate(135)"><circle class="n" cy="-75" r="6.5"/></g><g id="t66" transform="rotate(141)"><circle class="n" cy="-69" r="6.5"/></g><g id="t67" transform="rotate(150)"><circle class="n" cy="-71" r="6.5"/></g><g id="t68" transform="rotate(160)"><circle class="n" cy="-71" r="6.5"/></g><g id="t69" transform="rotate(164)"><circle class="n" cy="-68" r="6.5"/></g><g id="t70" transform="rotate(175)"><circle class="n" cy="-72" r="6.5"/></g><g id="t71" transform="rotate(182)"><circle class="n" cy="-69" r="6.5"/></g><g id="t72" transform="rotate(189)"><circle class="n" cy="-70" r="6.5"/></g><g id="t73" transform="rotate(200)"><circle class="n" cy="-73" r="6.5"/></g><g id="t74" transform="rotate(204)"><circle class="n" cy="-70" r="6.5"/></g><g id="t75" transform="rotate(214)"><circle class="n" cy="-72" r="6.5"/></g><g id="t76" transform="rotate(223)"><circle class="n" cy="-69" r="6.5"/></g><g id="t77" transform="rotate(229)"><circle class="n" cy="-72" r="6.5"/></g><g id="t78" transform="rotate(240)"><circle class="n" cy="-75" r="6.5"/></g><g id="t79" transform="rotate(246)"><circle class="n" cy="-72" r="6.5"/></g><g id="t80" transform="rotate(252)"><circle class="n" cy="-74" r="6.5"/></g><g id="t81" transform="rotate(263)"><circle class="n" cy="-71" r="6.5"/></g><g id="t82" transform="rotate(269)"><circle class="n" cy="-77" r="6.5"/></g><g id="t83" transform="rotate(278)"><circle class="n" cy="-76" r="6.5"/></g><g id="t84" transform="rotate(288)"><circle class="n" cy="-76" r="6.5"/></g><g id="t85" transform="rotate(292)"><circle class="n" cy="-78" r="6.5"/></g><g id="t86" transform="rotate(303)"><circle class="n" cy="-80" r="6.5"/></g><g id="t87" transform="rotate(310)"><circle class="n" cy="-76" r="6.5"/></g><g id="t88" transform="rotate(317)"><circle class="n" cy="-79" r="6.5"/></g><g id="t89" transform="rotate(328)"><circle class="n" cy="-80" r="6.5"/></g><g id="t90" transform="rotate(332)"><circle class="n" cy="-78" r="6.5"/></g><g id="t91" transform="rotate(342)"><circle class="n" cy="-83" r="6.5"/></g><g id="t92" transform="rotate(351)"><circle class="n" cy="-80" r="6.5"/></g><g id="t93" transform="rotate(357)"><circle class="n" cy="-78" r="6.5"/></g>
<g id="t246" transform="rotate(5)"><circle class="n" cy="-74" r="6.5"/></g><g id="t247" transform="rotate(14)"><circle class="n" cy="-76" r="6.5"/></g><g id="t248" transform="rotate(22)"><circle class="n" cy="-73" r="6.5"/></g><g id="t249" transform="rotate(31)"><circle class="n" cy="-75" r="6.5"/></g><g id="t250" transform="rotate(39)"><circle class="n" cy="-72" r="6.5"/></g><g id="t251" transform="rotate(48)"><circle class="n" cy="-73" r="6.5"/></g><g id="t252" transform="rotate(56)"><circle class="n" cy="-75" r="6.5"/></g><g id="t253" transform="rotate(65)"><circle class="n" cy="-71" r="6.5"/></g><g id="t254" transform="rotate(74)"><circle class="n" cy="-72" r="6.5"/></g><g id="t255" transform="rotate(82)"><circle class="n" cy="-72" r="6.5"/></g><g id="t256" transform="rotate(91)"><circle class="n" cy="-68" r="6.5"/></g><g id="t257" transform="rotate(99)"><circle class="n" cy="-72" r="6.5"/></g><g id="t258" transform="rotate(108)"><circle class="n" cy="-69" r="6.5"/></g><g id="t259" transform="rotate(116)"><circle class="n" cy="-68" r="6.5"/></g><g id="t260" transform="rotate(125)"><circle class="n" cy="-69" r="6.5"/></g><g id="t261" transform="rotate(134)"><circle class="n" cy="-66" r="6.5"/></g><g id="t262" transform="rotate(142)"><circle class="n" cy="-67" r="6.5"/></g><g id="t263" transform="rotate(151)"><circle class="n" cy="-69" r="6.5"/></g><g id="t264" transform="rotate(159)"><circle class="n" cy="-66" r="6.5"/></g><g id="t265" transform="rotate(168)"><circle class="n" cy="-67" r="6.5"/></g><g id="t266" transform="rotate(176)"><circle class="n" cy="-67" r="6.5"/></g><g id="t267" transform="rotate(185)"><circle class="n" cy="-65" r="6.5"/></g><g id="t268" transform="rotate(194)"><circle class="n" cy="-69" r="6.5"/></g><g id="t269" transform="rotate(202)"><circle class="n" cy="-65" r="6.5"/></g><g id="t270" transform="rotate(211)"><circle class="n" cy="-67" r="6.5"/></g><g id="t271" transform="rotate(219)"><circle class="n" cy="-68" r="6.5"/></g><g id="t272" transform="rotate(228)"><circle class="n" cy="-67" r="6.5"/></g><g id="t273" transform="rotate(236)"><circle class="n" cy="-70" r="6.5"/></g><g id="t274" transform="rotate(245)"><circle class="n" cy="-69" r="6.5"/></g><g id="t275" transform="rotate(254)"><circle class="n" cy="-67" r="6.5"/></g><g id="t276" transform="rotate(262)"><circle class="n" cy="-71" r="6.5"/></g><g id="t277" transform="rotate(271)"><circle class="n" cy="-71" r="6.5"/></g><g id="t278" transform="rotate(279)"><circle class="n" cy="-70" r="6.5"/></g><g id="t279" transform="rotate(288)"><circle class="n" cy="-74" r="6.5"/></g><g id="t280" transform="rotate(296)"><circle class="n" cy="-70" r="6.5"/></g><g id="t281" transform="rotate(305)"><circle class="n" cy="-73" r="6.5"/></g><g id="t282" transform="rotate(314)"><circle class="n" cy="-74" r="6.5"/></g><g id="t283" transform="rotate(322)"><circle class="n" cy="-73" r="6.5"/></g><g id="t284" transform="rotate(331)"><circle class="n" cy="-74" r="6.5"/></g><g id="t285" transform="rotate(339)"><circle class="n" cy="-76" r="6.5"/></g><g id="t286" transform="rotate(348)"><circle class="n" cy="-73" r="6.5"/></g><g id="t287" transform="rotate(356)"><circle class="n" cy="-75" r="6.5"/></g>
<g id="t94" transform="rotate(2)"><circle class="n" cy="-70" r="6.5"/></g><g id="t95" transform="rotate(12)"><circle class="n" cy="-67" r="6.5"/></g><g id="t96" transform="rotate(19)"><circle class="n" cy="-71" r="6.5"/></g><g id="t288" transform="rotate(25)"><circle class="n" cy="-64" r="6.5"/></g><g id="t97" transform="rotate(31)"><circle class="n" cy="-69" r="6.5"/></g><g id="t98" transform="rotate(36)"><circle class="n" cy="-68" r="6.5"/></g><g id="t99" transform="rotate(47)"><circle class="n" cy="-71" r="6.5"/></g><g id="t100" transform="rotate(57)"><circle class="n" cy="-66" r="6.5"/></g><g id="t101" transform="rotate(64)"><circle class="n" cy="-68" r="6.5"/></g><g id="t102" transform="rotate(76)"><circle class="n" cy="-67" r="6.5"/></g><g id="t103" transform="rotate(83)"><circle class="n" cy="-65" r="6.5"/></g><g id="t104" transform="rotate(90)"><circle class="n" cy="-68" r="6.5"/></g><g id="t105" transform="rotate(102)"><circle class="n" cy="-62" r="6.5"/></g><g id="t106" transform="rotate(110)"><circle class="n" cy="-66" r="6.5"/></g><g id="t107" transform="rotate(121)"><circle class="n" cy="-64" r="6.5"/></g><g id="t108" transform="rotate(127)"><circle class="n" cy="-66" r="6.5"/></g><g id="t109" transform="rotate(137)"><circle class="n" cy="-63" r="6.5"/></g><g id="t110" transform="rotate(144)"><circle class="n" cy="-61" r="6.5"/></g><g id="t111" transform="rotate(156)"><circle class="n" cy="-66" r="6.5"/></g><g id="t112" transform="rotate(165)"><circle class="n" cy="-63" r="6.5"/></g><g id="t113" transform="rotate(172)"><circle class="n" cy="-64" r="6.5"/></g><g id="t114" transform="rotate(182)"><circle class="n" cy="-61" r="6.5"/></g><g id="t115" transform="rotate(193)"><circle class="n" cy="-65" r="6.5"/></g><g id="t116" transform="rotate(198)"><circle class="n" cy="-62" r="6.5"/></g><g id="t117" transform="rotate(209)"><circle class="n" cy="-63" r="6.5"/></g><g id="t118" transform="rotate(219)"><circle class="n" cy="-66" r="6.5"/></g><g id="t119" transform="rotate(226)"><circle class="n" cy="-62" r="6.5"/></g><g id="t120" transform="rotate(238)"><circle class="n" cy="-65" r="6.5"/></g><g id="t121" transform="rotate(245)"><circle class="n" cy="-64" r="6.5"/></g><g id="t122" transform="rotate(252)"><circle class="n" cy="-65" r="6.5"/></g><g id="t123" transform="rotate(264)"><circle class="n" cy="-68" r="6.5"/></g><g id="t124" transform="rotate(272)"><circle class="n" cy="-63" r="6.5"/></g><g id="t125" transform="rotate(280)"><circle class="n" cy="-68" r="6.5"/></g><g id="t126" transform="rotate(292)"><circle class="n" cy="-67" r="6.5"/></g><g id="t127" transform="rotate(297)"><circle class="n" cy="-66" r="6.5"/></g><g id="t128" transform="rotate(308)"><circle class="n" cy="-70" r="6.5"/></g><g id="t129" transform="rotate(318)"><circle class="n" cy="-69" r="6.5"/></g><g id="t130" transform="rotate(325)"><circle class="n" cy="-67" r="6.5"/></g><g id="t131" transform="rotate(335)"><circle class="n" cy="-69" r="6.5"/></g><g id="t132" transform="rotate(346)"><circle class="n" cy="-72" r="6.5"/></g><g id="t133" transform="rotate(351)"><circle class="n" cy="-68" r="6.5"/></g>
<g id="t134" transform="rotate(5)"><circle class="n" cy="-59" r="6.5"/></g><g id="t135" transform="rotate(16)"><circle class="n" cy="-60" r="6.5"/></g><g id="t136" transform="rotate(24)"><circle class="n" cy="-56" r="6.5"/></g><g id="t137" transform="rotate(36)"><circle class="n" cy="-59" r="6.5"/></g><g id="t138" transform="rotate(45)"><circle class="n" cy="-57" r="6.5"/></g><g id="t139" transform="rotate(54)"><circle class="n" cy="-61" r="6.5"/></g><g id="t140" transform="rotate(66)"><circle class="n" cy="-56" r="6.5"/></g><g id="t141" transform="rotate(75)"><circle class="n" cy="-59" r="6.5"/></g><g id="t142" transform="rotate(84)"><circle class="n" cy="-56" r="6.5"/></g><g id="t143" transform="rotate(95)"><circle class="n" cy="-57" r="6.5"/></g><g id="t144" transform="rotate(105)"><circle class="n" cy="-58" r="6.5"/></g><g id="t145" transform="rotate(116)"><circle class="n" cy="-54" r="6.5"/></g><g id="t146" transform="rotate(124)"><circle class="n" cy="-58" r="6.5"/></g><g id="t147" transform="rotate(135)"><circle class="n" cy="-56" r="6.5"/></g><g id="t148" transform="rotate(146)"><circle class="n" cy="-55" r="6.5"/></g><g id="t149" transform="rotate(155)"><circle class="n" cy="-58" r="6.5"/></g><g id="t150" transform="rotate(164)"><circle class="n" cy="-54" r="6.5"/></g><g id="t151" transform="rotate(176)"><circle class="n" cy="-56" r="6.5"/></g><g id="t152" transform="rotate(185)"><circle class="n" cy="-55" r="6.5"/></g><g id="t153" transform="rotate(195)"><circle class="n" cy="-54" r="6.5"/></g><g id="t154" transform="rotate(204)"><circle class="n" cy="-57" r="6.5"/></g><g id="t155" transform="rotate(216)"><circle class="n" cy="-54" r="6.5"/></g><g id="t156" transform="rotate(225)"><circle class="n" cy="-57" r="6.5"/></g><g id="t157" transform="rotate(236)"><circle class="n" cy="-59" r="6.5"/></g><g id="t158" transform="rotate(244)"><circle class="n" cy="-55" r="6.5"/></g><g id="t159" transform="rotate(255)"><circle class="n" cy="-57" r="6.5"/></g><g id="t160" transform="rotate(266)"><circle class="n" cy="-59" r="6.5"/></g><g id="t161" transform="rotate(275)"><circle class="n" cy="-55" r="6.5"/></g><g id="t162" transform="rotate(284)"><circle class="n" cy="-58" r="6.5"/></g><g id="t163" transform="rotate(296)"><circle class="n" cy="-57" r="6.5"/></g><g id="t164" transform="rotate(305)"><circle class="n" cy="-61" r="6.5"/></g><g id="t165" transform="rotate(314)"><circle class="n" cy="-58" r="6.5"/></g><g id="t166" transform="rotate(325)"><circle class="n" cy="-56" r="6.5"/></g><g id="t167" transform="rotate(336)"><circle class="n" cy="-60" r="6.5"/></g><g id="t168" transform="rotate(345)"><circle class="n" cy="-61" r="6.5"/></g><g id="t169" transform="rotate(355)"><circle class="n" cy="-58" r="6.5"/></g>
<g id="t170" transform="rotate(0)"><circle class="n" cy="-48" r="6.5"/></g><g id="t171" transform="rotate(13)"><circle class="n" cy="-50" r="6.5"/></g><g id="t172" transform="rotate(23)"><circle class="n" cy="-49" r="6.5"/></g><g id="t173" transform="rotate(37)"><circle class="n" cy="-48" r="6.5"/></g><g id="t174" transform="rotate(47)"><circle class="n" cy="-51" r="6.5"/></g><g id="t175" transform="rotate(60)"><circle class="n" cy="-49" r="6.5"/></g><g id="t176" transform="rotate(73)"><circle class="n" cy="-48" r="6.5"/></g><g id="t177" transform="rotate(84)"><circle class="n" cy="-50" r="6.5"/></g><g id="t178" transform="rotate(95)"><circle class="n" cy="-48" r="6.5"/></g><g id="t179" transform="rotate(108)"><circle class="n" cy="-49" r="6.5"/></g><g id="t180" transform="rotate(121)"><circle class="n" cy="-51" r="6.5"/></g><g id="t181" transform="rotate(131)"><circle class="n" cy="-48" r="6.5"/></g><g id="t182" transform="rotate(143)"><circle class="n" cy="-49" r="6.5"/></g><g id="t183" transform="rotate(157)"><circle class="n" cy="-50" r="6.5"/></g><g id="t184" transform="rotate(168)"><circle class="n" cy="-48" r="6.5"/></g><g id="t185" transform="rotate(180)"><circle class="n" cy="-48" r="6.5"/></g><g id="t186" transform="rotate(191)"><circle class="n" cy="-51" r="6.5"/></g><g id="t187" transform="rotate(205)"><circle class="n" cy="-49" r="6.5"/></g><g id="t188" transform="rotate(216)"><circle class="n" cy="-48" r="6.5"/></g><g id="t189" transform="rotate(227)"><circle class="n" cy="-50" r="6.5"/></g><g id="t190" transform="rotate(241)"><circle class="n" cy="-49" r="6.5"/></g><g id="t191" transform="rotate(251)"><circle class="n" cy="-48" r="6.5"/></g><g id="t192" transform="rotate(263)"><circle class="n" cy="-51" r="6.5"/></g><g id="t193" transform="rotate(277)"><circle class="n" cy="-48" r="6.5"/></g><g id="t194" transform="rotate(287)"><circle class="n" cy="-49" r="6.5"/></g><g id="t195" transform="rotate(300)"><circle class="n" cy="-50" r="6.5"/></g><g id="t196" transform="rotate(311)"><circle class="n" cy="-48" r="6.5"/></g><g id="t197" transform="rotate(323)"><circle class="n" cy="-49" r="6.5"/></g><g id="t198" transform="rotate(335)"><circle class="n" cy="-51" r="6.5"/></g><g id="t199" transform="rotate(347)"><circle class="n" cy="-48" r="6.5"/></g>
</g>
<g id="cluster-a">
<g id="a26"><circle class="n" cx="132" cy="281" r="6.5"/></g><g id="a25"><circle class="n" cx="162" cy="305" r="6.5"/></g><g id="a24"><circle class="n" cx="156" cy="267" r="6.5"/></g><g id="a23"><circle class="n" cx="136" cy="298" r="6.5"/></g><g id="a22"><circle class="n" cx="171" cy="290" r="6.5"/></g><g id="a21"><circle class="n" cx="140" cy="272" r="6.5"/></g><g id="a20"><circle class="n" cx="151" cy="305" r="6.5"/></g><g id="a19"><circle class="n" cx="165" cy="274" r="6.5"/></g><g id="a18"><circle class="n" cx="134" cy="288" r="6.5"/></g><g id="a17"><circle class="n" cx="165" cy="298" r="6.5"/></g><g id="a16"><circle class="n" cx="150" cy="271" r="6.5"/></g><g id="a15"><circle class="n" cx="143" cy="300" r="6.5"/></g><g id="a14"><circle class="n" cx="167" cy="284" r="6.5"/></g><g id="a13"><circle class="n" cx="139" cy="280" r="6.5"/></g><g id="a12"><circle class="n" cx="156" cy="301" r="6.5"/></g><g id="a11"><circle class="n" cx="158" cy="275" r="6.5"/></g><g id="a10"><circle class="n" cx="140" cy="292" r="6.5"/></g><g id="a9"><circle class="n" cx="163" cy="291" r="6.5"/></g><g id="a8"><circle class="n" cx="147" cy="277" r="6.5"/></g><g id="a7"><circle class="n" cx="149" cy="297" r="6.5"/></g><g id="a6"><circle class="n" cx="160" cy="282" r="6.5"/></g><g id="a5"><circle class="n" cx="143" cy="285" r="6.5"/></g><g id="a4"><circle class="n" cx="157" cy="293" r="6.5"/></g><g id="a3"><circle class="n" cx="153" cy="280" r="6.5"/></g><g id="a2"><circle class="n" cx="148" cy="290" r="6.5"/></g><g id="a1"><circle class="n" cx="155" cy="287" r="6.5"/></g>
</g>
<g id="cluster-b">
<g id="b12"><circle class="n" cx="373" cy="299" r="6.5"/></g><g id="b11"><circle class="n" cx="374" cy="276" r="6.5"/></g><g id="b10"><circle class="n" cx="359" cy="291" r="6.5"/></g><g id="b9"><circle class="n" cx="379" cy="291" r="6.5"/></g><g id="b8"><circle class="n" cx="365" cy="278" r="6.5"/></g><g id="b7"><circle class="n" cx="367" cy="296" r="6.5"/></g><g id="b6"><circle class="n" cx="376" cy="283" r="6.5"/></g><g id="b5"><circle class="n" cx="362" cy="286" r="6.5"/></g><g id="b4"><circle class="n" cx="373" cy="292" r="6.5"/></g><g id="b3"><circle class="n" cx="370" cy="281" r="6.5"/></g><g id="b2"><circle class="n" cx="366" cy="290" r="6.5"/></g><g id="b1"><circle class="n" cx="372" cy="287" r="6.5"/></g>
</g>
<g id="cluster-c">
<g id="c22"><circle class="n" cx="281" cy="346" r="6.5"/></g><g id="c21"><circle class="n" cx="250" cy="328" r="6.5"/></g><g id="c20"><circle class="n" cx="261" cy="361" r="6.5"/></g><g id="c19"><circle class="n" cx="275" cy="330" r="6.5"/></g><g id="c18"><circle class="n" cx="244" cy="344" r="6.5"/></g><g id="c17"><circle class="n" cx="275" cy="354" r="6.5"/></g><g id="c16"><circle class="n" cx="260" cy="327" r="6.5"/></g><g id="c15"><circle class="n" cx="253" cy="356" r="6.5"/></g><g id="c14"><circle class="n" cx="277" cy="340" r="6.5"/></g><g id="c13"><circle class="n" cx="249" cy="335" r="6.5"/></g><g id="c12"><circle class="n" cx="266" cy="357" r="6.5"/></g><g id="c11"><circle class="n" cx="268" cy="331" r="6.5"/></g><g id="c10"><circle class="n" cx="250" cy="348" r="6.5"/></g><g id="c9"><circle class="n" cx="273" cy="347" r="6.5"/></g><g id="c8"><circle class="n" cx="257" cy="333" r="6.5"/></g><g id="c7"><circle class="n" cx="259" cy="353" r="6.5"/></g><g id="c6"><circle class="n" cx="270" cy="338" r="6.5"/></g><g id="c5"><circle class="n" cx="253" cy="341" r="6.5"/></g><g id="c4"><circle class="n" cx="267" cy="349" r="6.5"/></g><g id="c3"><circle class="n" cx="263" cy="336" r="6.5"/></g><g id="c2"><circle class="n" cx="258" cy="346" r="6.5"/></g><g id="c1"><circle class="n" cx="265" cy="343" r="6.5"/></g>
</g>
<g id="cluster-d">
<g id="d20"><circle class="n" cx="261" cy="473" r="6.5"/></g><g id="d19"><circle class="n" cx="275" cy="443" r="6.5"/></g><g id="d18"><circle class="n" cx="245" cy="456" r="6.5"/></g><g id="d17"><circle class="n" cx="275" cy="466" r="6.5"/></g><g id="d16"><circle class="n" cx="260" cy="439" r="6.5"/></g><g id="d15"><circle class="n" cx="253" cy="468" r="6.5"/></g><g id="d14"><circle class="n" cx="277" cy="452" r="6.5"/></g><g id="d13"><circle class="n" cx="250" cy="448" r="6.5"/></g><g id="d12"><circle class="n" cx="266" cy="468" r="6.5"/></g><g id="d11"><circle class="n" cx="268" cy="443" r="6.5"/></g><g id="d10"><circle class="n" cx="250" cy="460" r="6.5"/></g><g id="d9"><circle class="n" cx="273" cy="459" r="6.5"/></g><g id="d8"><circle class="n" cx="257" cy="445" r="6.5"/></g><g id="d7"><circle class="n" cx="259" cy="465" r="6.5"/></g><g id="d6"><circle class="n" cx="270" cy="450" r="6.5"/></g><g id="d5"><circle class="n" cx="253" cy="454" r="6.5"/></g><g id="d4"><circle class="n" cx="267" cy="461" r="6.5"/></g><g id="d3"><circle class="n" cx="263" cy="449" r="6.5"/></g><g id="d2"><circle class="n" cx="258" cy="458" r="6.5"/></g><g id="d1"><circle class="n" cx="265" cy="455" r="6.5"/></g>
</g>
<g id="cluster-e">
<g id="e51"><circle class="n" cx="42" cy="493" r="6.5"/></g><g id="e53"><circle class="n" cx="58" cy="493" r="6.5"/></g><g id="e44"><circle class="n" cx="30" cy="486" r="6.5"/></g><g id="e52"><circle class="n" cx="50" cy="492" r="6.5"/></g><g id="e46"><circle class="n" cx="46" cy="486" r="6.5"/></g><g id="e54"><circle class="n" cx="66" cy="492" r="6.5"/></g><g id="e48"><circle class="n" cx="62" cy="486" r="6.5"/></g><g id="e45"><circle class="n" cx="38" cy="487" r="6.5"/></g><g id="e50"><circle class="n" cx="78" cy="485" r="6.5"/></g><g id="e47"><circle class="n" cx="54" cy="487" r="6.5"/></g><g id="e49"><circle class="n" cx="70" cy="487" r="6.5"/></g>
<g id="e35"><circle class="n" cx="22" cy="478" r="6.5"/></g><g id="e38"><circle class="n" cx="42" cy="479" r="6.5"/></g><g id="e36"><circle class="n" cx="28" cy="480" r="6.5"/></g><g id="e41"><circle class="n" cx="66" cy="478" r="6.5"/></g><g id="e37"><circle class="n" cx="35" cy="478" r="6.5"/></g><g id="e43"><circle class="n" cx="82" cy="477" r="6.5"/></g><g id="e39"><circle class="n" cx="50" cy="478" r="6.5"/></g><g id="e40"><circle class="n" cx="58" cy="479" r="6.5"/></g><g id="e42"><circle class="n" cx="74" cy="479" r="6.5"/></g>
<g id="e26"><circle class="n" cx="22" cy="471" r="6.5"/></g><g id="e28"><circle class="n" cx="38" cy="471" r="6.5"/></g><g id="e30"><circle class="n" cx="54" cy="471" r="6.5"/></g><g id="e27"><circle class="n" cx="30" cy="470" r="6.5"/></g><g id="e32"><circle class="n" cx="70" cy="471" r="6.5"/></g><g id="e29"><circle class="n" cx="46" cy="470" r="6.5"/></g><g id="e34"><circle class="n" cx="86" cy="470" r="6.5"/></g><g id="e31"><circle class="n" cx="62" cy="470" r="6.5"/></g><g id="e33"><circle class="n" cx="78" cy="470" r="6.5"/></g>
<g id="e16"><circle class="n" cx="19" cy="463" r="6.5"/></g><g id="e18"><circle class="n" cx="34" cy="463" r="6.5"/></g><g id="e17"><circle class="n" cx="26" cy="462" r="6.5"/></g><g id="e20"><circle class="n" cx="50" cy="463" r="6.5"/></g><g id="e19"><circle class="n" cx="42" cy="462" r="6.5"/></g><g id="e22"><circle class="n" cx="67" cy="467" r="6.5"/></g><g id="e21"><circle class="n" cx="58" cy="465" r="6.5"/></g><g id="e24"><circle class="n" cx="83" cy="463" r="6.5"/></g><g id="e23"><circle class="n" cx="76" cy="466" r="6.5"/></g><g id="e25"><circle class="n" cx="89" cy="458" r="6.5"/></g>
<g id="e12"><circle class="n" cx="22" cy="455" r="6.5"/></g><g id="e14"><circle class="n" cx="38" cy="455" r="6.5"/></g><g id="e13"><circle class="n" cx="30" cy="454" r="6.5"/></g><g id="e15"><circle class="n" cx="47" cy="456" r="6.5"/></g><g id="e8"><circle class="n" cx="20" cy="448" r="6.5"/></g><g id="e10"><circle class="n" cx="35" cy="447" r="6.5"/></g><g id="e9"><circle class="n" cx="27" cy="446" r="6.5"/></g><g id="e11"><circle class="n" cx="43" cy="447" r="6.5"/></g>
<g id="e5"><circle class="n" cx="24" cy="439" r="6.5"/></g><g id="e7"><circle class="n" cx="38" cy="440" r="6.5"/></g><g id="e6"><circle class="n" cx="31" cy="438" r="6.5"/></g><g id="e3"><circle class="n" cx="34" cy="431" r="6.5"/></g><g id="e4"><circle class="n" cx="41" cy="432" r="6.5"/></g><g id="e1"><circle class="n" cx="38" cy="424" r="6.5"/></g><g id="e2"><circle class="n" cx="45" cy="421" r="6.5"/></g>
</g>
<g id="cluster-f">
<g id="f30"><circle class="n" cx="458" cy="483" r="6.5"/></g><g id="f32"><circle class="n" cx="474" cy="484" r="6.5"/></g><g id="f31"><circle class="n" cx="466" cy="485" r="6.5"/></g><g id="f33"><circle class="n" cx="482" cy="482" r="6.5"/></g>
<g id="f24"><circle class="n" cx="449" cy="475" r="6.5"/></g><g id="f26"><circle class="n" cx="465" cy="475" r="6.5"/></g><g id="f25"><circle class="n" cx="457" cy="474" r="6.5"/></g><g id="f28"><circle class="n" cx="481" cy="475" r="6.5"/></g><g id="f27"><circle class="n" cx="473" cy="474" r="6.5"/></g><g id="f29"><circle class="n" cx="489" cy="473" r="6.5"/></g>
<g id="f17"><circle class="n" cx="445" cy="468" r="6.5"/></g><g id="f19"><circle class="n" cx="461" cy="467" r="6.5"/></g><g id="f18"><circle class="n" cx="453" cy="466" r="6.5"/></g><g id="f21"><circle class="n" cx="477" cy="467" r="6.5"/></g><g id="f20"><circle class="n" cx="469" cy="466" r="6.5"/></g><g id="f23"><circle class="n" cx="493" cy="465" r="6.5"/></g><g id="f22"><circle class="n" cx="485" cy="466" r="6.5"/></g>
<g id="f10"><circle class="n" cx="446" cy="462" r="6.5"/></g><g id="f12"><circle class="n" cx="462" cy="459" r="6.5"/></g><g id="f11"><circle class="n" cx="455" cy="460" r="6.5"/></g><g id="f14"><circle class="n" cx="478" cy="458" r="6.5"/></g><g id="f13"><circle class="n" cx="470" cy="458" r="6.5"/></g><g id="f16"><circle class="n" cx="494" cy="457" r="6.5"/></g><g id="f15"><circle class="n" cx="486" cy="459" r="6.5"/></g>
<g id="f9"><circle class="n" cx="492" cy="450" r="6.5"/></g><g id="f7"><circle class="n" cx="476" cy="450" r="6.5"/></g><g id="f8"><circle class="n" cx="484" cy="451" r="6.5"/></g><g id="f6"><circle class="n" cx="467" cy="453" r="6.5"/></g><g id="f5"><circle class="n" cx="488" cy="443" r="6.5"/></g><g id="f3"><circle class="n" cx="472" cy="442" r="6.5"/></g><g id="f4"><circle class="n" cx="480" cy="442" r="6.5"/></g><g id="f2"><circle class="n" cx="483" cy="435" r="6.5"/></g><g id="f1"><circle class="n" cx="475" cy="434" r="6.5"/></g>
</g>
<g id="hub-top"><circle class="h" cx="258" cy="107" r="7.5"/></g>
<g id="hub-left"><circle class="h" cx="69" cy="437" r="7.5"/></g>
<g id="hub-right"><circle class="h" cx="448" cy="437" r="7.5"/></g>
</g>
</svg>
